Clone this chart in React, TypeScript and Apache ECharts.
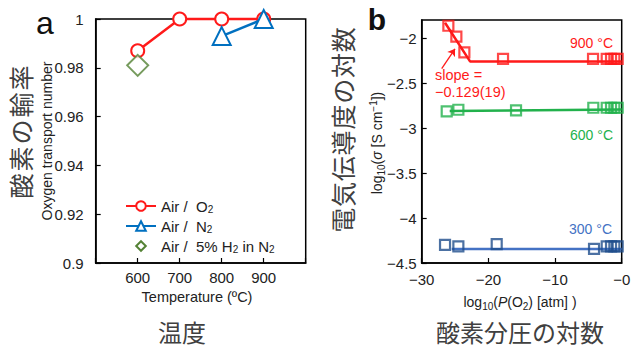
import React, { useEffect, useRef } from 'react';
import * as echarts from 'echarts';

// ---------- Panel a data ----------
const o2Temps = [600, 700, 800, 900];
const o2Values = [0.987, 1.0, 1.0, 1.0];
const n2Temps = [800, 900];
const n2Values = [0.993, 1.0];
const h2Temps = [600];
const h2Values = [0.981];
const legendNames = ['Air / O2', 'Air / N2', 'Air / 5% H2 in N2'];
const legendRich: Record<string, string> = {
  'Air / O2': 'Air /  O{sub|2}',
  'Air / N2': 'Air /  N{sub|2}',
  'Air / 5% H2 in N2': 'Air /  5% H{sub|2} in N{sub|2}',
};

// ---------- Panel b data ----------
const p900X = [-26.0, -24.8, -23.6, -17.8, -4.3, -2.25, -1.6, -1.1, -0.6];
const p900Y = [-1.864, -1.985, -2.159, -2.232, -2.232, -2.232, -2.232, -2.232, -2.232];
const fit900X = [-26.5, -22.75, 0];
const fit900Y = [-1.83, -2.26, -2.26];

const p600X = [-26.25, -24.5, -15.85, -4.26, -2.25, -1.6, -1.1, -0.6];
const p600Y = [-2.815, -2.797, -2.804, -2.775, -2.775, -2.775, -2.775, -2.775];
const fit600X = [-25.8, 0];
const fit600Y = [-2.812, -2.795];

const p300X = [-26.5, -24.5, -18.75, -4.15, -2.25, -1.6, -1.1, -0.6];
const p300Y = [-4.298, -4.316, -4.29, -4.342, -4.316, -4.316, -4.316, -4.316];
const fit300X = [-25.5, 0];
const fit300Y = [-4.345, -4.345];

const arrowX = [-27.0, -25.0];
const arrowY = [-2.34, -2.12];

const RED = '#ff1a1a';
const BLUE_A = '#0070c0';
const GREEN_A = '#548235';
const GREEN = '#22b14c';
const NAVY = '#1f4e8c';
const BLUE_LINE = '#4472c4';
const JP_COLOR = '#404040';
const FONT = '"Liberation Sans", Arial, sans-serif';
const JP_FONT = '"Noto Sans CJK JP", sans-serif';

const zip = (xs: number[], ys: number[]) => xs.map((x, i) => [x, ys[i]]);
const minusFmt = (v: number) => (v < 0 ? '\u2212' : '') + String(Math.abs(Math.round(v * 1000) / 1000));

function verticalText(str: string, cx: number, cy: number, spacing: number, fontSize: number) {
  const chars = Array.from(str);
  const n = chars.length;
  return {
    type: 'group',
    x: cx,
    y: cy,
    rotation: Math.PI / 2,
    children: chars.map((c, i) => ({
      type: 'text',
      x: (i - (n - 1) / 2) * spacing,
      y: 0,
      style: {
        text: c,
        fontFamily: JP_FONT,
        fontSize,
        fill: JP_COLOR,
        align: 'center',
        verticalAlign: 'middle',
      },
    })),
  };
}

const axisCommon = {
  axisLine: { show: true, onZero: false, lineStyle: { color: '#000', width: 1.5 } },
  axisTick: { show: true, inside: true, length: 5, lineStyle: { color: '#000', width: 1.2 } },
  splitLine: { show: false },
};

const subRich = {
  sub: { fontSize: 10, fontFamily: FONT, fill: '#222', color: '#222', verticalAlign: 'bottom', lineHeight: 18 },
  sup: { fontSize: 10, fontFamily: FONT, fill: '#222', color: '#222', verticalAlign: 'top', lineHeight: 18 },
  it: { fontSize: 14, fontFamily: FONT, fontStyle: 'italic', fill: '#222', color: '#222', lineHeight: 18 },
};

const option: any = {
  animation: false,
  backgroundColor: '#fff',
  grid: [
    { left: 95.7, top: 19, width: 210, height: 244, show: true, borderColor: '#000', borderWidth: 1.5, backgroundColor: 'transparent' },
    { left: 421.7, top: 20, width: 200, height: 243, show: true, borderColor: '#000', borderWidth: 1.5, backgroundColor: 'transparent' },
  ],
  xAxis: [
    {
      ...axisCommon,
      gridIndex: 0,
      type: 'value',
      min: 500,
      max: 1000,
      interval: 100,
      axisLabel: {
        margin: 7,
        fontSize: 15,
        fontFamily: FONT,
        color: '#222',
        formatter: (v: number) => (v === 500 || v === 1000 ? '' : String(v)),
      },
    },
    {
      ...axisCommon,
      gridIndex: 1,
      type: 'value',
      min: -30,
      max: 0,
      interval: 10,
      axisLabel: {
        margin: 9,
        fontSize: 15,
        fontFamily: FONT,
        color: '#222',
        formatter: (v: number) => '\u2212' + String(Math.abs(v)),
      },
    },
  ],
  yAxis: [
    {
      ...axisCommon,
      gridIndex: 0,
      type: 'value',
      min: 0.9,
      max: 1,
      interval: 0.02,
      axisLabel: {
        margin: 12,
        fontSize: 15,
        fontFamily: FONT,
        color: '#222',
        formatter: (v: number) => String(Math.round(v * 100) / 100),
      },
    },
    {
      ...axisCommon,
      gridIndex: 1,
      type: 'value',
      min: -4.5,
      max: -1.8,
      interval: 0.5,
      axisLabel: {
        margin: 5,
        fontSize: 15,
        fontFamily: FONT,
        color: '#222',
        showMaxLabel: false,
        formatter: minusFmt,
      },
    },
  ],
  legend: {
    data: legendNames,
    orient: 'vertical',
    left: 120,
    top: 193,
    itemWidth: 30,
    itemHeight: 12,
    itemGap: 4,
    textStyle: {
      fontSize: 15,
      fontFamily: FONT,
      color: '#222',
      lineHeight: 16,
      rich: {
        sub: { fontSize: 10, fontFamily: FONT, color: '#222', verticalAlign: 'bottom', lineHeight: 16 },
      },
    },
    formatter: (name: string) => legendRich[name] || name,
  },
  series: [
    {
      name: 'Air / O2',
      type: 'line',
      xAxisIndex: 0,
      yAxisIndex: 0,
      data: zip(o2Temps, o2Values),
      symbol: 'emptyCircle',
      symbolSize: 13,
      clip: false,
      color: RED,
      lineStyle: { color: RED, width: 2.5 },
      itemStyle: { color: RED, borderColor: RED, borderWidth: 2.5 },
      z: 3,
    },
    {
      name: 'Air / N2',
      type: 'line',
      xAxisIndex: 0,
      yAxisIndex: 0,
      data: zip(n2Temps, n2Values),
      symbol: 'emptyTriangle',
      symbolSize: 18,
      clip: false,
      color: BLUE_A,
      lineStyle: { color: BLUE_A, width: 2.5 },
      itemStyle: { color: BLUE_A, borderColor: BLUE_A, borderWidth: 2.5 },
      z: 4,
    },
    {
      // legend proxy for the diamond series (small icon, no visible line)
      name: 'Air / 5% H2 in N2',
      type: 'line',
      xAxisIndex: 0,
      yAxisIndex: 0,
      data: [],
      symbol: 'emptyDiamond',
      symbolSize: 11,
      color: GREEN_A,
      lineStyle: { color: GREEN_A, width: 0, opacity: 0 },
      itemStyle: { color: GREEN_A, borderColor: GREEN_A, borderWidth: 2.5 },
    },
    {
      name: 'h2-points',
      type: 'scatter',
      xAxisIndex: 0,
      yAxisIndex: 0,
      data: zip(h2Temps, h2Values),
      symbol: 'emptyDiamond',
      symbolSize: 21,
      clip: false,
      color: GREEN_A,
      itemStyle: { color: GREEN_A, borderColor: GREEN_A, borderWidth: 2.5 },
      z: 5,
    },
    // Panel b fit lines
    {
      type: 'line', xAxisIndex: 1, yAxisIndex: 1, data: zip(fit900X, fit900Y),
      showSymbol: false, symbol: 'none', lineStyle: { color: RED, width: 2.5 }, z: 2,
    },
    {
      type: 'line', xAxisIndex: 1, yAxisIndex: 1, data: zip(fit600X, fit600Y),
      showSymbol: false, symbol: 'none', lineStyle: { color: GREEN, width: 2.5 }, z: 2,
    },
    {
      type: 'line', xAxisIndex: 1, yAxisIndex: 1, data: zip(fit300X, fit300Y),
      showSymbol: false, symbol: 'none', lineStyle: { color: BLUE_LINE, width: 2.5 }, z: 2,
    },
    // Panel b squares
    {
      type: 'scatter', xAxisIndex: 1, yAxisIndex: 1, data: zip(p900X, p900Y),
      symbol: 'rect', symbolSize: 10, clip: false,
      itemStyle: { color: 'rgba(0,0,0,0)', borderColor: RED, borderWidth: 2.2 }, z: 3,
    },
    {
      type: 'scatter', xAxisIndex: 1, yAxisIndex: 1, data: zip(p600X, p600Y),
      symbol: 'rect', symbolSize: 10, clip: false,
      itemStyle: { color: 'rgba(0,0,0,0)', borderColor: GREEN, borderWidth: 2.2 }, z: 3,
    },
    {
      type: 'scatter', xAxisIndex: 1, yAxisIndex: 1, data: zip(p300X, p300Y),
      symbol: 'rect', symbolSize: 10, clip: false,
      itemStyle: { color: 'rgba(0,0,0,0)', borderColor: NAVY, borderWidth: 2.2 }, z: 3,
    },
    // Arrow
    {
      type: 'lines',
      coordinateSystem: 'cartesian2d',
      xAxisIndex: 1,
      yAxisIndex: 1,
      symbol: ['none', 'arrow'],
      symbolSize: 7,
      lineStyle: { color: RED, width: 1.3, opacity: 1 },
      data: [{ coords: zip(arrowX, arrowY) }],
      z: 4,
    },
  ],
  graphic: [
    { type: 'text', x: 45, y: 23, style: { text: 'a', fontFamily: FONT, fontSize: 32, fill: '#111', align: 'center', verticalAlign: 'middle' } },
    { type: 'text', x: 377, y: 19, style: { text: 'b', fontFamily: FONT, fontSize: 30, fontWeight: 'bold', fill: '#111', align: 'center', verticalAlign: 'middle' } },
    // axis names panel a
    {
      type: 'text', x: 47, y: 141, rotation: Math.PI / 2,
      style: { text: 'Oxygen transport number', fontFamily: FONT, fontSize: 14, fill: '#222', align: 'center', verticalAlign: 'middle' },
    },
    {
      type: 'text', x: 197, y: 297,
      style: { text: 'Temperature (\u00baC)', fontFamily: FONT, fontSize: 14.5, fill: '#222', align: 'center', verticalAlign: 'middle' },
    },
    // axis names panel b
    {
      type: 'text', x: 377, y: 143, rotation: Math.PI / 2,
      style: {
        text: 'log{sub|10}({it|\u03c3} [S cm{sup|\u22121}])',
        rich: subRich,
        fontFamily: FONT, fontSize: 14, fill: '#222', align: 'center', verticalAlign: 'middle', lineHeight: 18,
      },
    },
    {
      type: 'text', x: 520, y: 302,
      style: {
        text: 'log{sub|10}({it|P}(O{sub|2}) [atm] )',
        rich: subRich,
        fontFamily: FONT, fontSize: 14, fill: '#222', align: 'center', verticalAlign: 'middle', lineHeight: 18,
      },
    },
    // Japanese labels
    verticalText('酸素の輸率', 20, 132, 27, 25),
    verticalText('電気伝導度の対数', 342, 130, 25.8, 25),
    { type: 'text', x: 182, y: 331, style: { text: '温度', fontFamily: JP_FONT, fontSize: 24, fill: JP_COLOR, align: 'center', verticalAlign: 'middle' } },
    { type: 'text', x: 520, y: 331, style: { text: '酸素分圧の対数', fontFamily: JP_FONT, fontSize: 24, fill: JP_COLOR, align: 'center', verticalAlign: 'middle' } },
    // temperature labels panel b
    { type: 'text', x: 613, y: 43, style: { text: '900 \u00b0C', fontFamily: FONT, fontSize: 14, fill: RED, align: 'right', verticalAlign: 'middle' } },
    { type: 'text', x: 613, y: 135, style: { text: '600 \u00b0C', fontFamily: FONT, fontSize: 14, fill: GREEN, align: 'right', verticalAlign: 'middle' } },
    { type: 'text', x: 612, y: 229, style: { text: '300 \u00b0C', fontFamily: FONT, fontSize: 14, fill: BLUE_LINE, align: 'right', verticalAlign: 'middle' } },
    // slope annotation
    { type: 'text', x: 435, y: 75, style: { text: 'slope =', fontFamily: FONT, fontSize: 14.5, fill: RED, align: 'left', verticalAlign: 'middle' } },
    { type: 'text', x: 435, y: 92, style: { text: '\u22120.129(19)', fontFamily: FONT, fontSize: 14.5, fill: RED, align: 'left', verticalAlign: 'middle' } },
  ],
};

export default function App() {
  const ref = useRef<HTMLDivElement>(null);
  useEffect(() => {
    if (!ref.current) return;
    const chart = echarts.init(ref.current, null, { renderer: 'svg' });
    chart.setOption(option);
    return () => chart.dispose();
  }, []);
  return (
    <div
      ref={ref}
      style={{ position: 'fixed', left: 0, top: 0, width: 640, height: 351, background: '#fff' }}
    />
  );
}
